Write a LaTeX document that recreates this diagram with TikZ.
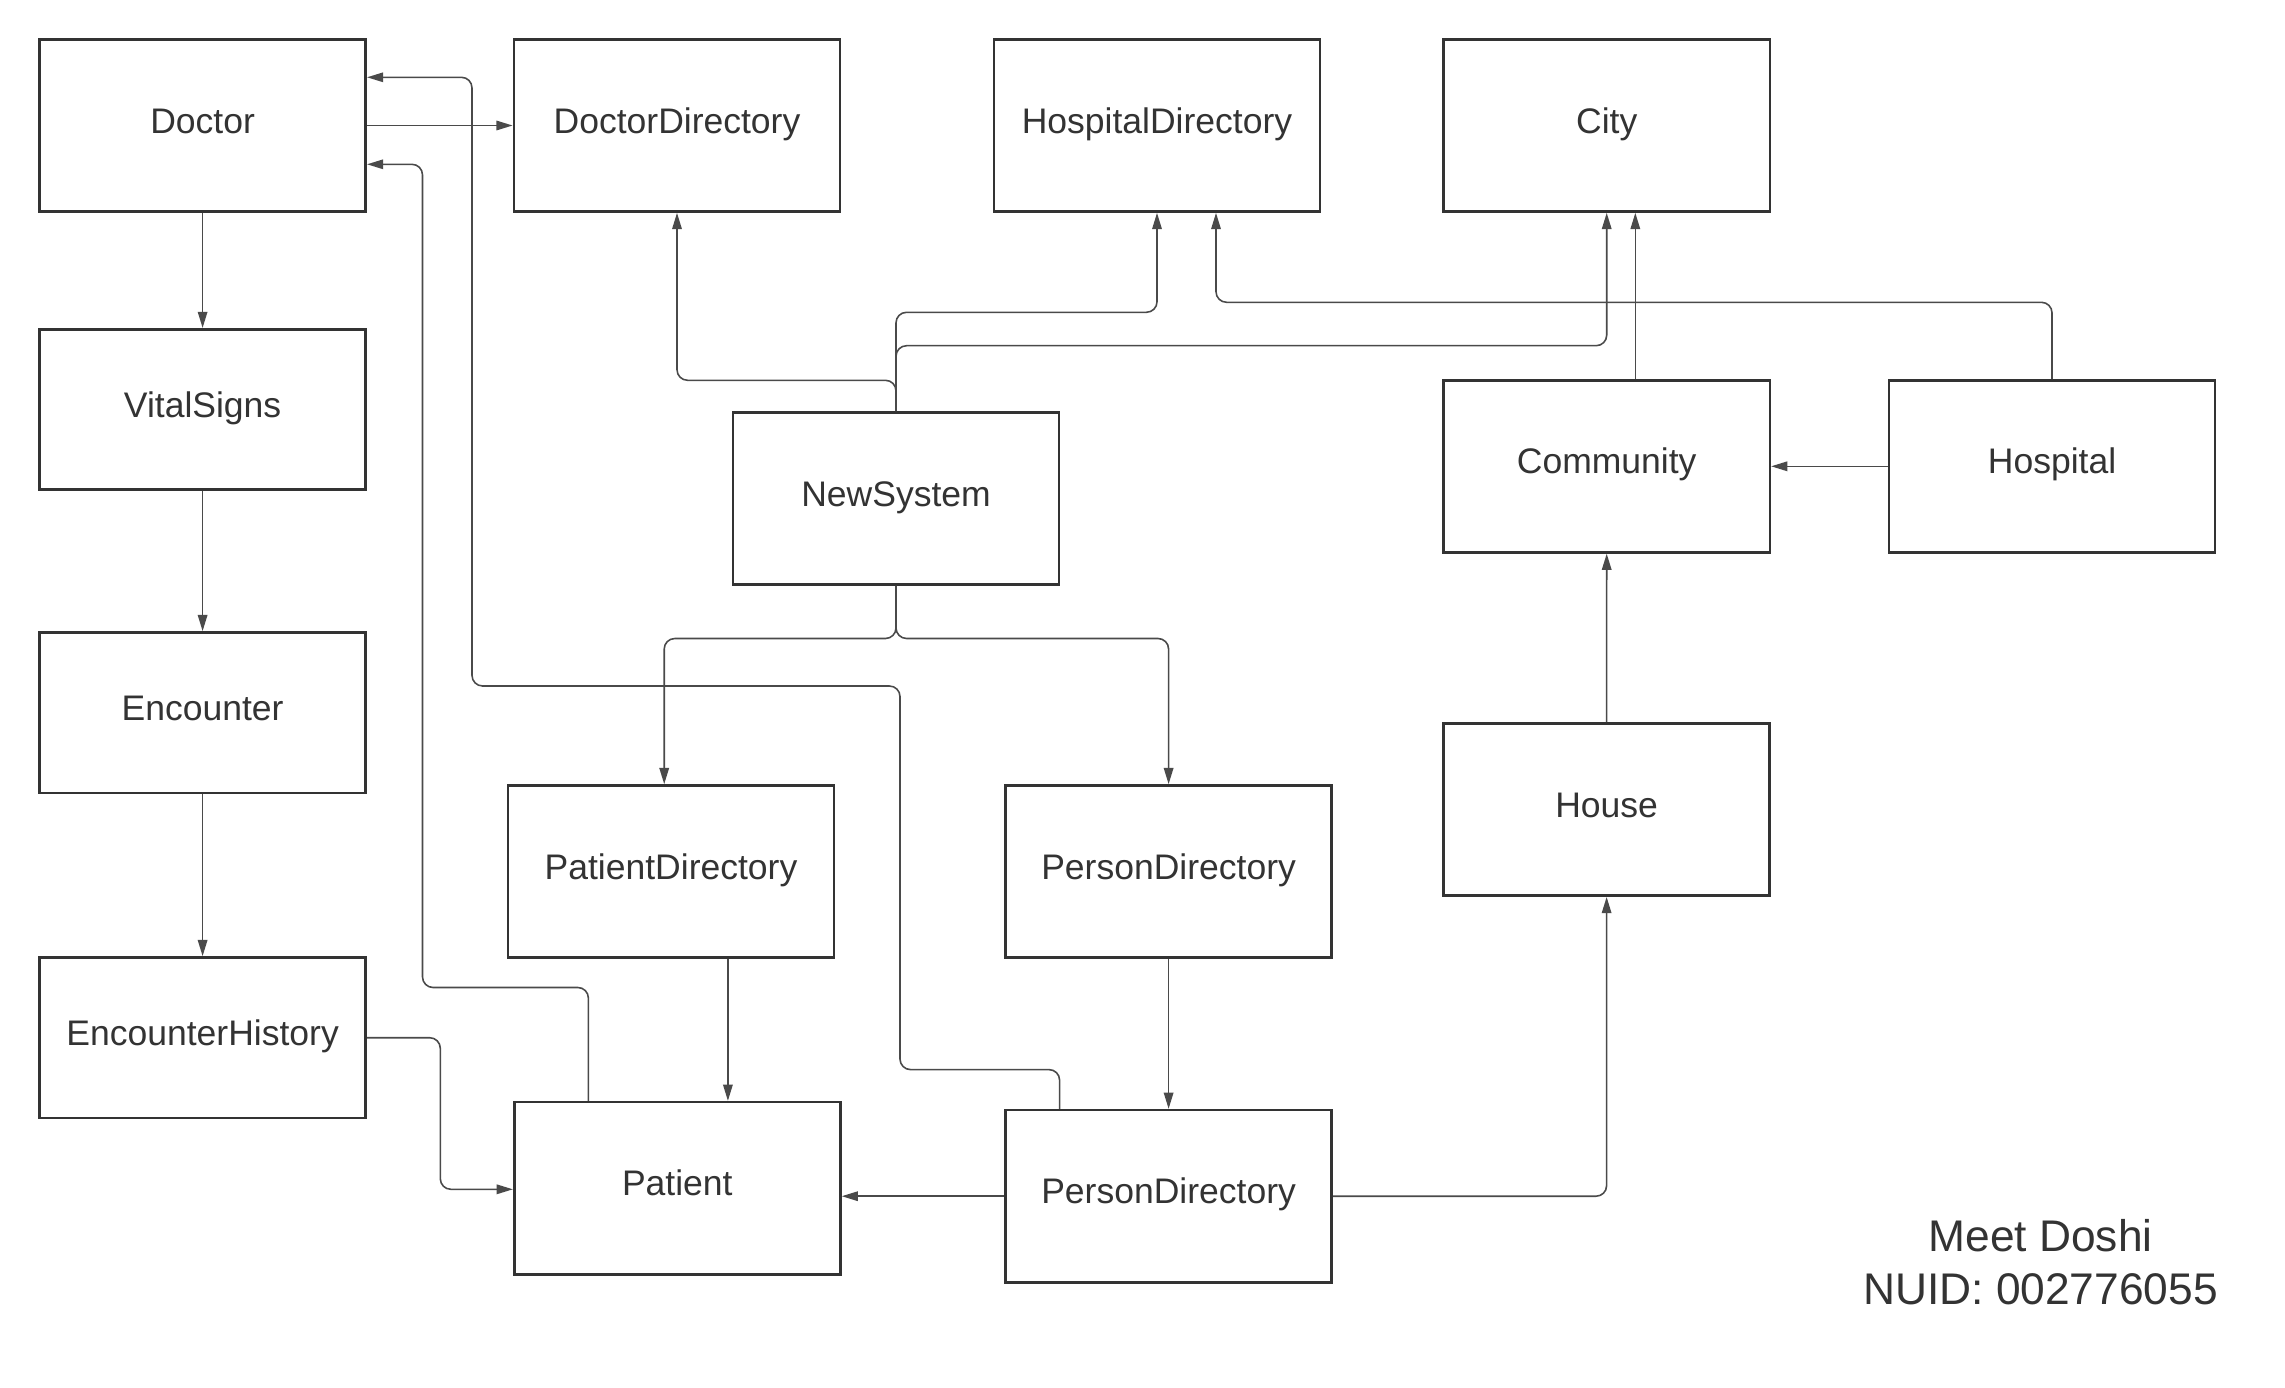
\documentclass[tikz,border=0pt]{standalone}
\usepackage{fontspec}
\setmainfont{Liberation Sans}
\usetikzlibrary{arrows.meta}
\definecolor{ink}{HTML}{333333}
\definecolor{wire}{HTML}{4A4A4A}
\tikzset{
  box/.style={draw=ink, line width=0.75pt, fill=white, text=ink,
    minimum width=3.26cm, minimum height=1.72cm, inner sep=0pt,
    font=\fontsize{10.1}{12}\selectfont, text height=7.2pt, text depth=2.85pt},
  lowbox/.style={box, minimum height=1.604cm},
  conn/.style={draw=wire, line width=0.45pt, rounded corners=3pt,
    -{Triangle[length=4.6pt,width=2.7pt]}},
}
\begin{document}
\begin{tikzpicture}[x=0.01cm,y=-0.01cm]
\useasboundingbox (0,0) rectangle (2285,1388);
% nodes
\node[box] (doc) at (202.6,125.5) {Doctor};
\node[box] (docdir) at (677,125.5) {DoctorDirectory};
\node[box] (hospdir) at (1157,125.5) {HospitalDirectory};
\node[box] (city) at (1606.7,125.5) {City};
\node[lowbox] (vital) at (202.6,409.5) {VitalSigns};
\node[lowbox] (enc) at (202.6,712.7) {Encounter};
\node[lowbox] (enchist) at (202.6,1037.7) {EncounterHistory};
\node[box] (ns) at (896,498.5) {NewSystem};
\node[box] (comm) at (1606.7,466.3) {Community};
\node[box] (hosp) at (2052,466.3) {Hospital};
\node[box] (house) at (1606.6,809.6) {House};
\node[box] (patdir) at (671,871.5) {PatientDirectory};
\node[box] (pdu) at (1168.6,871.5) {PersonDirectory};
\node[box] (patient) at (677.3,1188.2) {Patient};
\node[box] (pdl) at (1168.6,1196.2) {PersonDirectory};
\node[text=ink, font=\fontsize{12.6}{15.2}\selectfont, align=center] (author) at (2040.5,1262) {Meet Doshi\\NUID: 002776055};
% connectors
\draw[conn] (doc.east) -- (docdir.west);
\draw[conn] (doc.south) -- (vital.north);
\draw[conn] (vital.south) -- (enc.north);
\draw[conn] (enc.south) -- (enchist.north);
\draw[conn] (enchist.east) -- (440.3,1037.7) |- (patient.west |- 0,1189.3);
\draw[conn] (1059.6,0 |- pdl.north) -- (1059.6,1069.6) -- (900,1069.6) -- (900,686) -- (472,686) -- (472,77.3) -- (doc.east |- 0,77.3);
\draw[conn] (588.4,0 |- patient.north) -- (588.4,987.5) -- (422.5,987.5) -- (422.5,164.3) -- (doc.east |- 0,164.3);
\draw[conn] (ns.north) -- (ns.north |- 0,380.3) -| (docdir.south);
\draw[conn] (ns.north) -- (ns.north |- 0,312.3) -| (hospdir.south);
\draw[conn] (ns.north) -- (ns.north |- 0,345.7) -| (city.south);
\draw[conn] (1635.3,0 |- comm.north) -- (1635.3,0 |- city.south);
\draw[conn] (hosp.north) -- (hosp.north |- 0,302.3) -| (1216,0 |- hospdir.south);
\draw[conn] (hosp.west) -- (comm.east);
\draw[conn] (house.north) -- (comm.south);
\draw[conn] (ns.south) -- (ns.south |- 0,638.5) -| (664.2,0 |- patdir.north);
\draw[conn] (ns.south) -- (ns.south |- 0,638.5) -| (pdu.north);
\draw[conn] (727.9,0 |- patdir.south) -- (727.9,0 |- patient.north);
\draw[conn] (pdu.south) -- (pdl.north);
\draw[conn] (pdl.west) -- (patient.east |- pdl.west);
\draw[conn] (pdl.east) -| (house.south);
\end{tikzpicture}
\end{document}
